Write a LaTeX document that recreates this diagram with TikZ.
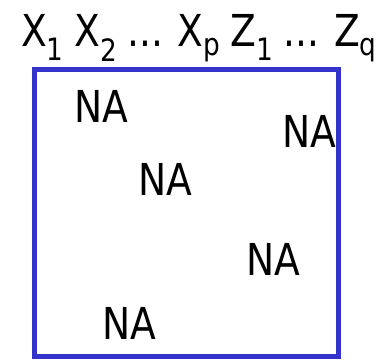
\documentclass[tikz,border=0pt]{standalone}
\usepackage{fontspec}
\setmainfont{DejaVu Sans Condensed}[FakeStretch=0.95]
\usepackage{xcolor}
\usepackage{tikz}
\definecolor{frame}{HTML}{3333CC}
\definecolor{ink}{HTML}{000000}

\begin{document}
\begin{tikzpicture}[x=1pt,y=-1pt,every node/.style={font=\fontsize{44}{50}\selectfont,text=ink,inner sep=0pt}]
  \useasboundingbox (0,0) rectangle (384,361);
  \draw[line width=5pt,frame] (34.5,70) rectangle (338.5,357);
  \node[anchor=base west] (hdr) at (21,47) {\spaceskip=10.2pt X\textsubscript{1} X\textsubscript{2} ... X\textsubscript{p} Z\textsubscript{1} ... Z\textsubscript{q}};
  \node (na1) at (101,106) {NA};
  \node (na2) at (309,131.5) {NA};
  \node (na3) at (165,179) {NA};
  \node (na4) at (273,259) {NA};
  \node (na5) at (129.5,323.5) {NA};
\end{tikzpicture}
\end{document}
